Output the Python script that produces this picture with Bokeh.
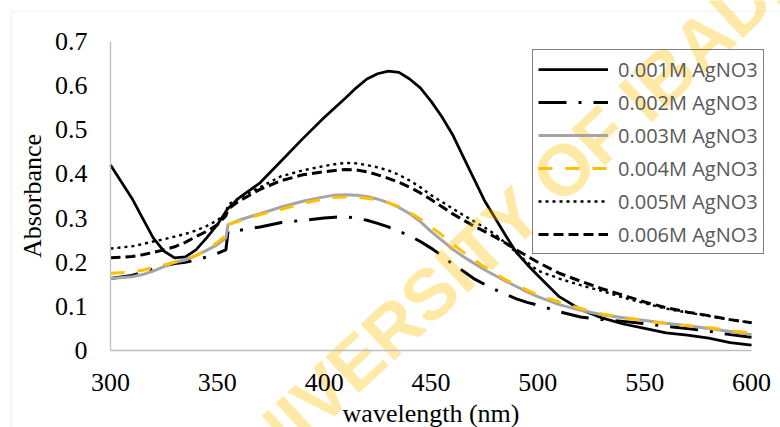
import math
from bokeh.plotting import figure
from bokeh.models import Legend, LegendItem, BoxAnnotation, FixedTicker, Range1d
from bokeh.core.properties import value
from bokeh.embed import file_html
from bokeh.resources import INLINE

wavelength = [300, 310, 315, 320, 325, 330, 335, 340, 345, 350, 354, 355, 360, 370, 380, 390,
              400, 405, 410, 415, 420, 425, 430, 435, 440, 445, 450, 455, 460, 465,
              470, 475, 480, 485, 490, 495, 500,
              510, 520, 530, 540, 550, 560, 570, 580, 590, 600]

abs_0001 = [0.42, 0.345, 0.30, 0.255, 0.225, 0.21, 0.212, 0.228, 0.255, 0.285, 0.315, 0.322,
            0.345, 0.38, 0.43, 0.48,
            0.528, 0.55, 0.572, 0.595, 0.615, 0.627, 0.633, 0.63, 0.615, 0.595, 0.565, 0.53,
            0.49, 0.44, 0.39, 0.34, 0.30, 0.26, 0.222, 0.195, 0.17,
            0.122, 0.093, 0.074, 0.06, 0.05, 0.04, 0.035, 0.028, 0.018, 0.012]
abs_0002 = [0.163, 0.17, 0.177, 0.185, 0.192, 0.197, 0.20, 0.205, 0.212, 0.22, 0.228, 0.27,
            0.272, 0.28, 0.29, 0.295,
            0.30, 0.302, 0.303, 0.30, 0.295, 0.288, 0.28, 0.27, 0.26, 0.247, 0.232, 0.215,
            0.196, 0.18, 0.163, 0.15, 0.138, 0.127, 0.117, 0.109, 0.103,
            0.088, 0.076, 0.07, 0.066, 0.061, 0.055, 0.05, 0.044, 0.036, 0.03]
abs_0003 = [0.163, 0.167, 0.172, 0.18, 0.19, 0.20, 0.205, 0.215, 0.227, 0.24, 0.255, 0.285,
            0.295, 0.31, 0.325, 0.338,
            0.348, 0.352, 0.353, 0.352, 0.349, 0.343, 0.335, 0.324, 0.31, 0.292, 0.27, 0.25,
            0.23, 0.213, 0.198, 0.183, 0.17, 0.157, 0.145, 0.133, 0.122,
            0.104, 0.091, 0.081, 0.074, 0.068, 0.062, 0.056, 0.05, 0.043, 0.036]
abs_0004 = [0.175, 0.178, 0.182, 0.188, 0.194, 0.20, 0.207, 0.215, 0.228, 0.245, 0.26, 0.285,
            0.293, 0.308, 0.32, 0.333,
            0.344, 0.347, 0.348, 0.347, 0.345, 0.341, 0.335, 0.326, 0.313, 0.298, 0.28, 0.262,
            0.242, 0.223, 0.206, 0.19, 0.174, 0.16, 0.148, 0.137, 0.126,
            0.11, 0.095, 0.083, 0.075, 0.067, 0.061, 0.056, 0.052, 0.045, 0.04]
abs_0005 = [0.231, 0.236, 0.241, 0.247, 0.252, 0.258, 0.264, 0.272, 0.282, 0.295, 0.31, 0.33,
            0.345, 0.37, 0.395, 0.408,
            0.418, 0.422, 0.425, 0.424, 0.42, 0.415, 0.408, 0.398, 0.385, 0.37, 0.352, 0.337,
            0.322, 0.307, 0.293, 0.279, 0.263, 0.243, 0.222, 0.2, 0.181,
            0.163, 0.148, 0.135, 0.12, 0.107, 0.095, 0.086, 0.078, 0.07, 0.063]
abs_0006 = [0.21, 0.213, 0.217, 0.222, 0.228, 0.235, 0.245, 0.258, 0.27, 0.285, 0.305, 0.32,
            0.338, 0.365, 0.385, 0.398,
            0.405, 0.408, 0.41, 0.409, 0.405, 0.398, 0.39, 0.381, 0.37, 0.357, 0.342, 0.326,
            0.31, 0.296, 0.282, 0.27, 0.257, 0.243, 0.228, 0.214, 0.20,
            0.175, 0.157, 0.14, 0.125, 0.11, 0.097, 0.087, 0.079, 0.07, 0.063]

series_labels = ["0.001M AgNO3", "0.002M AgNO3", "0.003M AgNO3",
                 "0.004M AgNO3", "0.005M AgNO3", "0.006M AgNO3"]
x_ticks = [300, 350, 400, 450, 500, 550, 600]
y_ticks = [0, 0.1, 0.2, 0.3, 0.4, 0.5, 0.6, 0.7]
x_title = "wavelength (nm)"
y_title = "Absorbance"
watermark_text = "UNIVERSITY OF IBADAN"

# frame covers the whole canvas; axes are pinned at x=300 / y=0
p = figure(width=780, height=427, output_backend="svg", toolbar_location=None,
           x_range=Range1d(248.52, 613.57), y_range=Range1d(-0.1744, 0.7929),
           min_border=0, min_border_left=0, min_border_right=0,
           min_border_top=0, min_border_bottom=0)
p.background_fill_color = "white"
p.border_fill_color = "white"
p.outline_line_color = None
p.xgrid.grid_line_color = None
p.ygrid.grid_line_color = None

for ax in (p.xaxis[0], p.yaxis[0]):
    ax.axis_line_color = "#BFBFBF"
    ax.axis_line_width = 1.3
    ax.major_tick_line_color = None
    ax.minor_tick_line_color = None
    ax.major_label_text_font = "Liberation Serif"
    ax.major_label_text_font_size = "26px"
    ax.major_label_text_color = "black"

p.xaxis.fixed_location = 0
p.yaxis.fixed_location = 300
p.xaxis.bounds = (300, 600)
p.yaxis.bounds = (0, 0.7)
p.xaxis.ticker = FixedTicker(ticks=x_ticks)
p.yaxis.ticker = FixedTicker(ticks=y_ticks)
p.xaxis.major_label_overrides = {t: str(t) for t in x_ticks}
p.yaxis.major_label_overrides = {t: ("0" if t == 0 else f"{t:.1f}") for t in y_ticks}
p.xaxis.major_label_standoff = 17
p.yaxis.major_label_standoff = 17

chart_border = BoxAnnotation(left=253.67, right=700, top=0.768, bottom=-1,
                             fill_alpha=0, line_color="#D9D9D9", line_width=1.3)
p.add_layout(chart_border)

styles = [
    dict(line_color="black", line_width=2.75),
    dict(line_color="black", line_width=3, line_dash="28 12 3 12"),
    dict(line_color="#A5A5A5", line_width=3),
    dict(line_color="#FFC000", line_width=3, line_dash="14 13"),
    dict(line_color="black", line_width=2.4, line_dash="3 4"),
    dict(line_color="black", line_width=3, line_dash="10 5"),
]
values = [abs_0001, abs_0002, abs_0003, abs_0004, abs_0005, abs_0006]

items = []
for lab, ys, st in zip(series_labels, values, styles):
    r = p.line(wavelength, ys, **st)
    items.append(LegendItem(label=lab, renderers=[r]))

# axis titles
p.text(x=[450], y=[-0.1427], text=[x_title], text_font=value("Liberation Serif"),
       text_font_size="26px", text_color="black",
       text_align="center", text_baseline="middle")
p.text(x=[263.5], y=[0.35], text=[y_title], angle=math.pi / 2,
       text_font=value("Liberation Serif"), text_font_size="26px",
       text_color="black", text_align="center", text_baseline="middle")

# watermark
p.text(x=[347.7], y=[-0.327], text=[watermark_text], angle=0.747,
       text_font=value("Liberation Sans"), text_font_style="bold",
       text_font_size="72px", text_color="#FFC000", text_alpha=0.35,
       text_align="left", text_baseline="alphabetic")

legend = Legend(items=items, location=(532, 173))
legend.label_text_font = "Open Sans"
legend.label_text_font_size = "20px"
legend.label_text_color = "#595959"
legend.glyph_width = 70
legend.glyph_height = 28
legend.label_height = 28
legend.label_standoff = 10
legend.spacing = 5
legend.padding = 5
legend.margin = 0
legend.border_line_color = "black"
legend.border_line_width = 1
legend.background_fill_color = "white"
legend.background_fill_alpha = 0
p.add_layout(legend, "center")

open("out.html", "w").write(file_html(p, INLINE))
